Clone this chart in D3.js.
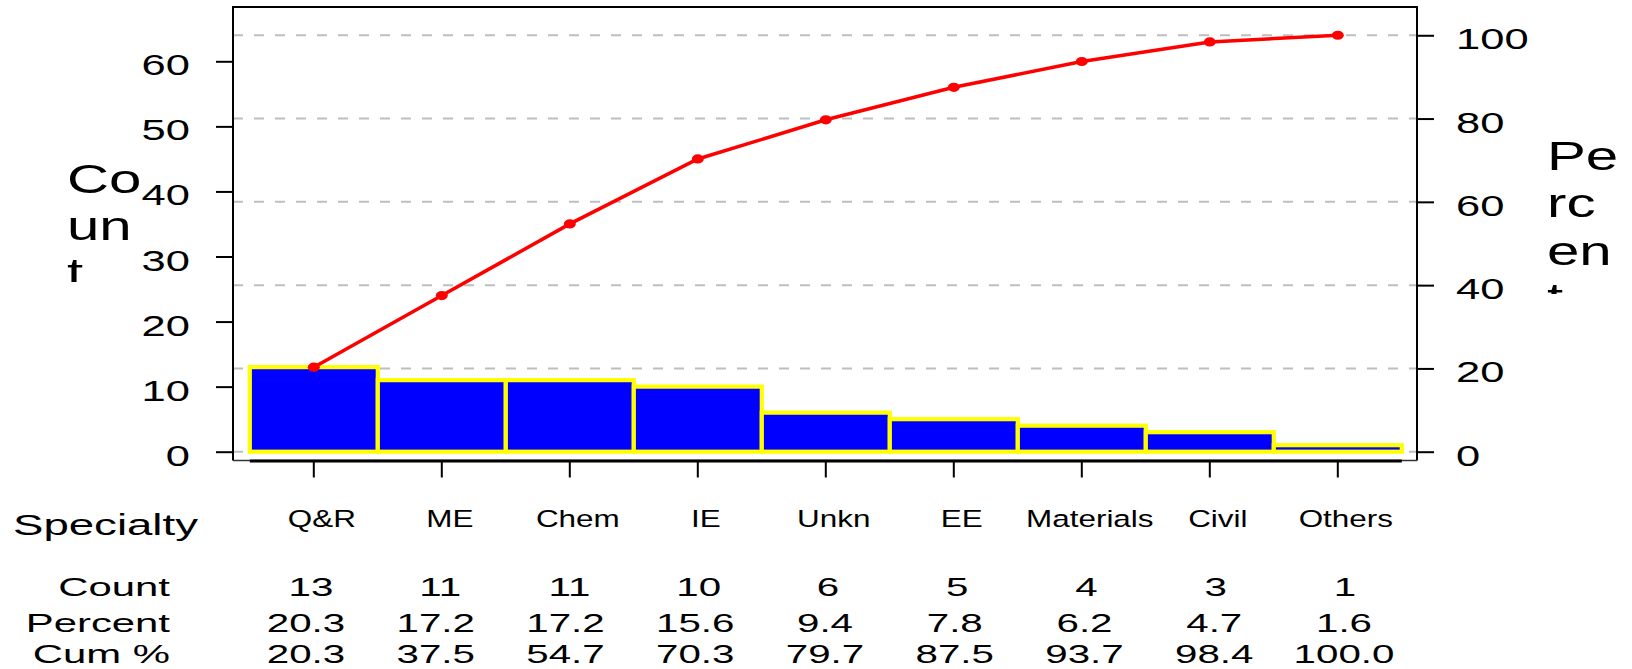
<!DOCTYPE html>
<html><head><meta charset="utf-8">
<script src="https://cdn.jsdelivr.net/npm/d3@7"></script>
<style>html,body{margin:0;padding:0;background:#fff;overflow:hidden}
text{font-family:"Liberation Sans",Arial,Helvetica,sans-serif;fill:#000}</style>
</head><body><svg id="c" width="1632" height="669"></svg>
<script>
const categories = ["Q&R","ME","Chem","IE","Unkn","EE","Materials","Civil","Others"];
const counts = [13,11,11,10,6,5,4,3,1];
const percents = ["20.3","17.2","17.2","15.6","9.4","7.8","6.2","4.7","1.6"];
const cumPercents = [20.3,37.5,54.7,70.3,79.7,87.5,93.7,98.4,100.0];
const countTicks = [0,10,20,30,40,50,60];
const percentTicks = [0,20,40,60,80,100];
const rowLabels = ["Count","Percent","Cum %"];
const xTitle = "Specialty";
const yTitle = "Count";
const y2Title = "Percent";

const svg = d3.select("#c");
svg.append("rect").attr("width",1632).attr("height",669).attr("fill","#fff");
const box = {left:233, top:7, right:1417, bottom:460.5};
const x = d3.scaleBand().domain(categories).range([249.8,1401.8]).padding(0);
const cx = c => x(c) + x.bandwidth()/2;
const yCount = d3.scaleLinear().domain([0,60]).range([451.7,61.3]);
const total = d3.sum(counts);
const yPct = d3.scaleLinear().domain([0,100]).range([yCount(0), yCount(total)]);

function stext(g, px, py, s, size, sx, anchor){
  return g.append("text").attr("transform",`translate(${px},${py}) scale(${sx},1)`)
    .attr("text-anchor",anchor).attr("font-size",size).text(s);
}

// grid
const grid = svg.append("g");
percentTicks.forEach(p=>{
  grid.append("line").attr("x1",box.left).attr("x2",box.right)
    .attr("y1",yPct(p)).attr("y2",yPct(p))
    .attr("stroke","#bebebe").attr("stroke-width",2).attr("stroke-dasharray","10,11");
});

// bars
svg.append("g").selectAll("rect").data(categories).join("rect")
  .attr("x",d=>x(d)).attr("width",x.bandwidth())
  .attr("y",(d,i)=>yCount(counts[i])).attr("height",(d,i)=>yCount(0)-yCount(counts[i]))
  .attr("fill","#0000ff").attr("stroke","#ffff00").attr("stroke-width",4.2);

// box
svg.append("path").attr("d",`M${box.left},${box.bottom}V${box.top}H${box.right}V${box.bottom}`)
  .attr("fill","none").attr("stroke","#000").attr("stroke-width",2);
svg.append("line").attr("x1",box.left).attr("x2",box.right).attr("y1",box.bottom).attr("y2",box.bottom)
  .attr("stroke","#333").attr("stroke-width",1.5);
svg.append("line").attr("x1",x.range()[0]).attr("x2",x.range()[1]).attr("y1",box.bottom+0.5).attr("y2",box.bottom+0.5)
  .attr("stroke","#000").attr("stroke-width",3);

// axes ticks
const la = svg.append("g").attr("transform",`translate(${box.left},0)`)
  .call(d3.axisLeft(yCount).tickValues(countTicks).tickSize(17).tickFormat(""));
la.select(".domain").remove();
la.selectAll("line").attr("stroke","#000").attr("stroke-width",2);
const ra = svg.append("g").attr("transform",`translate(${box.right},0)`)
  .call(d3.axisRight(yPct).tickValues(percentTicks).tickSize(17).tickFormat(""));
ra.select(".domain").remove();
ra.selectAll("line").attr("stroke","#000").attr("stroke-width",2);
const ba = svg.append("g").attr("transform",`translate(0,${box.bottom})`)
  .call(d3.axisBottom(x).tickSize(17).tickFormat(""));
ba.select(".domain").remove();
ba.selectAll("line").attr("stroke","#000").attr("stroke-width",2);

// tick labels
const tl = svg.append("g");
countTicks.forEach(t=>stext(tl, 190, yCount(t)+14, t, 30, 1.45, "end"));
percentTicks.forEach(t=>stext(tl, 1456, yPct(t)+14, t, 30, 1.45, "start"));

// cumulative line
const line = d3.line().x((d,i)=>cx(categories[i])).y(d=>yPct(d));
svg.append("path").datum(cumPercents).attr("d",line).attr("fill","none")
  .attr("stroke","#ff0000").attr("stroke-width",3.5);
svg.append("g").selectAll("ellipse").data(cumPercents).join("ellipse")
  .attr("cx",(d,i)=>cx(categories[i])).attr("cy",d=>yPct(d))
  .attr("rx",6).attr("ry",4.6).attr("fill","#ff0000");

// axis titles (wrapped & clipped)
const defs = svg.append("defs");
defs.append("clipPath").attr("id","clipL").append("rect").attr("x",0).attr("y",0).attr("width",230).attr("height",282);
defs.append("clipPath").attr("id","clipR").append("rect").attr("x",1440).attr("y",0).attr("width",192).attr("height",294);
const chunk = s => s.match(/.{1,2}/g);
const lt = svg.append("g").attr("clip-path","url(#clipL)");
chunk(yTitle).forEach((s,i)=>stext(lt, 67, 192.5+47.3*i, s, 41, 1.42, "start"));
const rt = svg.append("g").attr("clip-path","url(#clipR)");
chunk(y2Title).forEach((s,i)=>stext(rt, 1547, 170+47.3*i, s, 41, 1.42, "start"));

// table
const tg = svg.append("g");
stext(tg, 13, 535, xTitle, 30, 1.52, "start");
categories.forEach(c=>stext(tg, cx(c)+8, 526.5, c, 23.3, 1.35, "middle"));
const rowY = [596, 632, 663];
rowLabels.forEach((s,i)=>stext(tg, 170, rowY[i], s, 26.5, 1.58, "end"));
const colA = d3.scalePoint().domain(categories).range([311,1345]);
const colB = d3.scalePoint().domain(categories).range([306,1344]);
categories.forEach((c,i)=>{
  stext(tg, colA(c), rowY[0], String(counts[i]), 25.5, 1.58, "middle");
  stext(tg, colB(c), rowY[1], percents[i], 25.5, 1.58, "middle");
  stext(tg, colB(c), rowY[2], cumPercents[i].toFixed(1), 25.5, 1.58, "middle");
});
</script></body></html>
